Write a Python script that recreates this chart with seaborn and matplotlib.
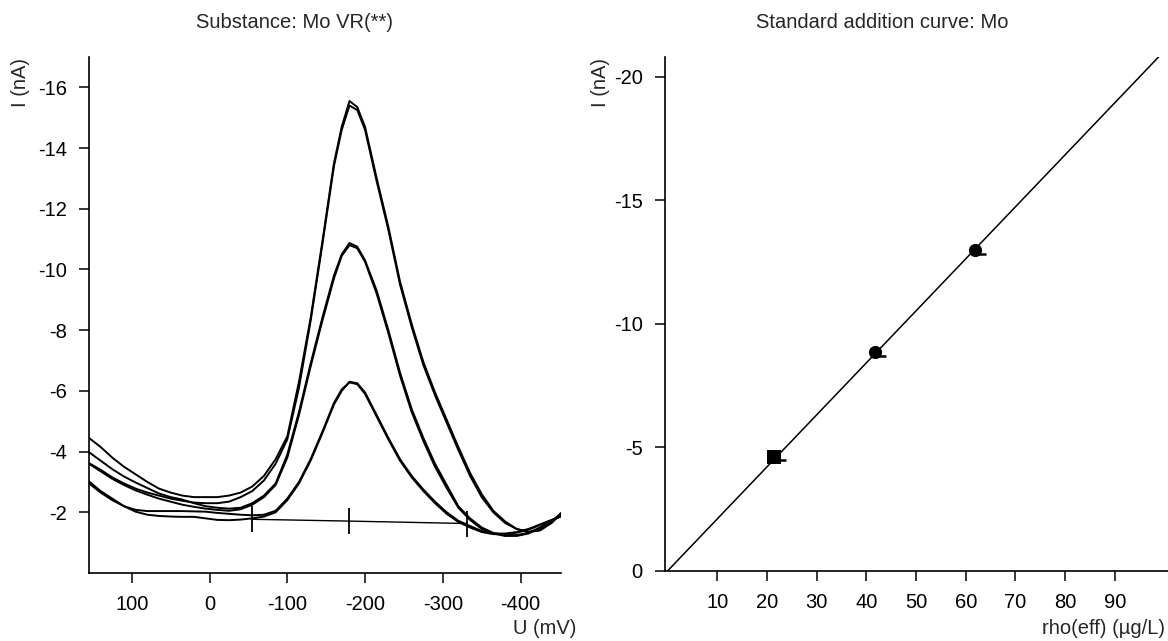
import matplotlib
matplotlib.use("Agg")
import matplotlib.pyplot as plt
import seaborn as sns
import pandas as pd

# ---- voltammograms (U in mV, I in nA) ----
u_mv = [155, 140, 125, 110, 95, 80, 65, 50, 35, 20, 5, -10, -25, -40, -55, -70, -85,
        -100, -115, -130, -145, -160, -170, -180, -190, -200, -215, -230, -245, -260,
        -275, -290, -305, -320, -335, -350, -365, -380, -395, -410, -425, -440, -452]

big_1 = [-4.45, -4.15, -3.8, -3.5, -3.25, -3.0, -2.78, -2.65, -2.55, -2.5, -2.5, -2.5, -2.55,
         -2.65, -2.85, -3.2, -3.75, -4.5, -6.3, -8.4, -10.9, -13.5, -14.7, -15.55, -15.35,
         -14.7, -13.0, -11.4, -9.6, -8.2, -6.95, -5.95, -5.05, -4.15, -3.3, -2.6, -2.05, -1.7,
         -1.45, -1.35, -1.4, -1.65, -1.95]
big_2 = [-3.62, -3.4, -3.15, -2.95, -2.78, -2.65, -2.55, -2.45, -2.38, -2.32, -2.3, -2.3, -2.35,
         -2.5, -2.7, -3.05, -3.6, -4.4, -6.1, -8.3, -10.8, -13.4, -14.6, -15.4, -15.25,
         -14.6, -12.9, -11.3, -9.5, -8.1, -6.85, -5.85, -4.95, -4.05, -3.2, -2.5, -2.0, -1.65,
         -1.45, -1.35, -1.42, -1.68, -1.98]
mid_1 = [-3.98, -3.7, -3.42, -3.18, -2.98, -2.8, -2.62, -2.5, -2.42, -2.3, -2.2, -2.15, -2.12,
         -2.15, -2.3, -2.55, -2.95, -3.9, -5.3, -6.9, -8.4, -9.8, -10.5, -10.87, -10.75,
         -10.3, -9.3, -8.0, -6.6, -5.4, -4.45, -3.6, -2.9, -2.2, -1.8, -1.5, -1.32, -1.25,
         -1.25, -1.32, -1.5, -1.72, -1.92]
mid_2 = [-3.6, -3.35, -3.1, -2.9, -2.72, -2.58, -2.45, -2.35, -2.25, -2.18, -2.12, -2.08, -2.05,
         -2.1, -2.25, -2.5, -2.9, -3.8, -5.2, -6.8, -8.3, -9.7, -10.45, -10.8, -10.7,
         -10.25, -9.2, -7.9, -6.5, -5.3, -4.35, -3.5, -2.8, -2.15, -1.75, -1.45, -1.3, -1.22,
         -1.22, -1.3, -1.48, -1.7, -1.9]
small_1 = [-3.02, -2.7, -2.45, -2.2, -2.02, -1.92, -1.88, -1.86, -1.85, -1.85, -1.8, -1.75, -1.74,
           -1.76, -1.8, -1.86, -2.0, -2.4, -2.95, -3.7, -4.6, -5.55, -6.0, -6.3, -6.25,
           -5.95, -5.2, -4.45, -3.75, -3.2, -2.75, -2.35, -2.0, -1.72, -1.55, -1.38, -1.3,
           -1.3, -1.35, -1.45, -1.6, -1.75, -1.87]
small_2 = [-2.95, -2.65, -2.4, -2.2, -2.08, -2.04, -2.04, -2.04, -2.04, -2.03, -2.02, -1.98, -1.95,
           -1.92, -1.9, -1.92, -2.05, -2.45, -3.0, -3.75, -4.65, -5.6, -6.05, -6.28, -6.22,
           -5.9, -5.15, -4.4, -3.7, -3.15, -2.7, -2.3, -1.95, -1.68, -1.5, -1.35, -1.28,
           -1.28, -1.33, -1.42, -1.58, -1.74, -1.86]

# baseline with peak start / peak / peak end markers
base_u = [-54, -180, -331]
base_i = [-1.77, -1.71, -1.63]

# ---- standard addition ----
rho_pts = [21.5, 41.7, 61.8]
i_pts = [-4.62, -8.88, -13.0]
rho_rep = [22.8, 43.0, 63.1]
i_rep = [-4.5, -8.72, -12.83]
fit_rho = [0, 100.7]
fit_i = [0, -21.2]

FS = 14.5
sns.set_theme(style="ticks")
plt.rcParams["font.family"] = ["Liberation Sans", "DejaVu Sans"]
plt.rcParams["font.size"] = FS

W, H = 1168, 641
fig = plt.figure(figsize=(W / 100, H / 100), dpi=100)
ax1 = fig.add_axes([89 / W, 1 - 573 / H, (561 - 89) / W, (573 - 57) / H])
ax2 = fig.add_axes([665 / W, 1 - 571 / H, (1168 - 665) / W, (571 - 57) / H])

curves = [big_1, big_2, mid_1, mid_2, small_1, small_2]
for c in curves:
    df = pd.DataFrame({"U": u_mv, "I": c})
    sns.lineplot(data=df, x="U", y="I", ax=ax1, color="black", lw=1.4,
                 sort=False, estimator=None)
sns.lineplot(x=base_u, y=base_i, ax=ax1, color="black", lw=1.0, sort=False,
             estimator=None, marker="|", markersize=19, markeredgewidth=1.3,
             markeredgecolor="black")

ax1.set_xlim(155, -452)
ax1.set_ylim(0, -17)
ax1.set_xticks([100, 0, -100, -200, -300, -400])
ax1.set_yticks([-16, -14, -12, -10, -8, -6, -4, -2])
ax1.set_xlabel("")
ax1.set_ylabel("")

sns.lineplot(x=fit_rho, y=fit_i, ax=ax2, color="black", lw=1.1)
sns.scatterplot(x=rho_pts[:1], y=i_pts[:1], ax=ax2, color="black", marker="s",
                s=90, edgecolor="black", linewidth=0)
sns.scatterplot(x=rho_pts[1:], y=i_pts[1:], ax=ax2, color="black", marker="o",
                s=90, edgecolor="black", linewidth=0)
sns.scatterplot(x=rho_rep, y=i_rep, ax=ax2, color="black", marker="_",
                s=60, linewidth=1.8, edgecolor="black")
ax2.set_xlim(-0.5, 100.7)
ax2.set_ylim(0, -20.8)
ax2.set_xticks([10, 20, 30, 40, 50, 60, 70, 80, 90])
ax2.set_yticks([0, -5, -10, -15, -20])
ax2.set_xlabel("")
ax2.set_ylabel("")

for ax in (ax1, ax2):
    sns.despine(ax=ax)
    for s in ("left", "bottom"):
        ax.spines[s].set_linewidth(1.2)
        ax.spines[s].set_color("black")
    ax.tick_params(direction="out", length=7, width=1.1, color="black",
                   labelsize=FS, labelcolor="black", pad=9)
    ax.set_yticklabels([f"{t:g}" for t in ax.get_yticks()])
    ax.set_xticklabels([f"{t:g}" for t in ax.get_xticks()])

fig.text(294 / W, 1 - 22 / H, "Substance: Mo VR(**)", ha="center", va="center", fontsize=FS)
fig.text(882 / W, 1 - 22 / H, "Standard addition curve: Mo", ha="center", va="center", fontsize=FS)
fig.text(21 / W, 1 - 58 / H, "I (nA)", rotation=90, ha="center", va="top", fontsize=FS)
fig.text(600 / W, 1 - 58 / H, "I (nA)", rotation=90, ha="center", va="top", fontsize=FS)
fig.text(576 / W, 1 - 628 / H, "U (mV)", ha="right", va="center", fontsize=FS)
fig.text(1165 / W, 1 - 628 / H, "rho(eff) (µg/L)", ha="right", va="center", fontsize=FS)

fig.savefig("out.png", dpi=100)
